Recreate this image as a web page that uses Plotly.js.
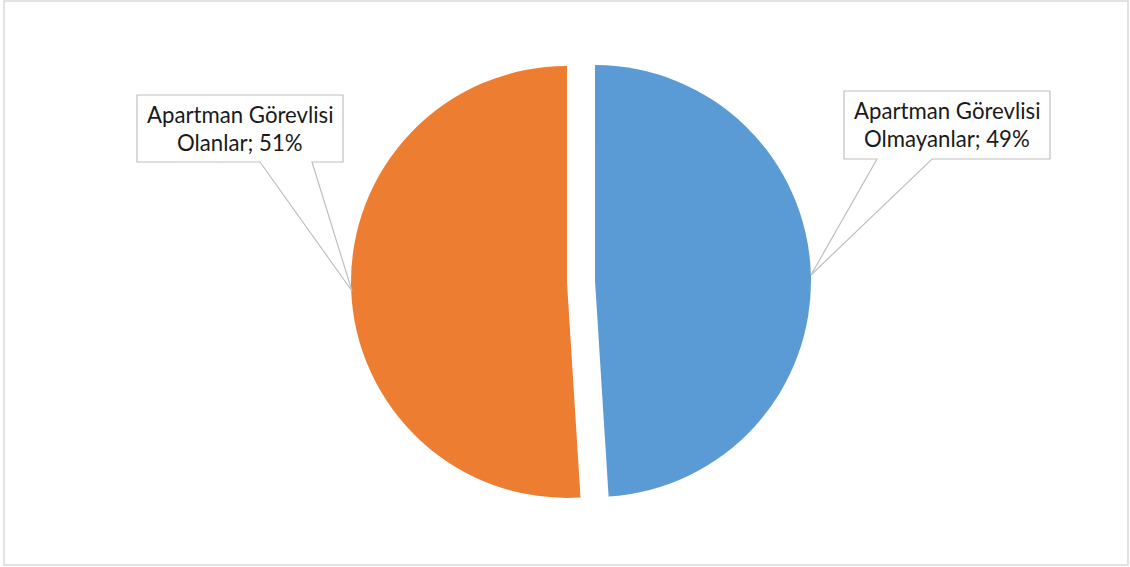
<!DOCTYPE html>
<html>
<head>
<meta charset="utf-8">
<script src="https://cdn.plot.ly/plotly-3.0.1.min.js"></script>
<style>html,body{margin:0;padding:0;background:#fff;}#chart{width:1130px;height:567px;}</style>
</head>
<body>
<div id="chart"></div>
<script>
// Data
var labels = ["Apartman Görevlisi Olmayanlar", "Apartman Görevlisi Olanlar"];
var values = [49, 51];
var colors = ["#5B9BD5", "#ED7D31"];
var labelLine1 = ["Apartman Görevlisi", "Apartman Görevlisi"];
var labelLine2 = ["Olmayanlar", "Olanlar"];

var W = 1130, H = 567;
function px(x){ return x / W; }
function py(y){ return 1 - y / H; }

// callout geometry (pixels): box l,t,r,b ; wedge base x1,x2 ; tip
var callouts = [
  {l:844, t:91, r:1050, b:159, w1:877, w2:932, tx:811, ty:275},
  {l:137, t:95, r:343, b:162, w1:260, w2:312, tx:352, ty:291}
];

var shapes = [{
  type:"rect", xref:"paper", yref:"paper",
  x0:px(4), x1:px(1128), y0:py(565), y1:py(1),
  line:{color:"#d9d9d9", width:1.5}, fillcolor:"rgba(0,0,0,0)", layer:"below"
}];
var annotations = [];
var fnt = {family:"Lato, 'Open Sans', sans-serif", size:22.2, color:"#1a1a1a"};
callouts.forEach(function(c, i){
  var path = "M" + px(c.l) + "," + py(c.t) +
             " L" + px(c.r) + "," + py(c.t) +
             " L" + px(c.r) + "," + py(c.b) +
             " L" + px(c.w2) + "," + py(c.b) +
             " L" + px(c.tx) + "," + py(c.ty) +
             " L" + px(c.w1) + "," + py(c.b) +
             " L" + px(c.l) + "," + py(c.b) + " Z";
  shapes.push({type:"path", xref:"paper", yref:"paper", path:path,
    fillcolor:"#ffffff", line:{color:"#bfbfbf", width:1.2}, layer:"above"});
  var cx = (c.l + c.r) / 2;
  var cy = (c.t + c.b) / 2;
  annotations.push({xref:"paper", yref:"paper", x:px(cx), y:py(cy - 14.5),
    text: labelLine1[i], showarrow:false, xanchor:"center", yanchor:"middle", font:fnt});
  annotations.push({xref:"paper", yref:"paper", x:px(cx), y:py(cy + 13.5),
    text: labelLine2[i] + "; " + values[i] + "%", showarrow:false, xanchor:"center", yanchor:"middle", font:fnt});
});

var trace = {
  type:"pie",
  labels: labels,
  values: values,
  marker:{colors: colors, line:{width:0}},
  sort:false,
  direction:"clockwise",
  rotation:0,
  pull:[0.065, 0.065],
  textinfo:"none",
  hoverinfo:"label+percent",
  showlegend:false,
  domain:{x:[px(301), px(861)], y:[py(511.5), py(51.5)]}
};

var layout = {
  width:W, height:H,
  margin:{l:0, r:0, t:0, b:0},
  paper_bgcolor:"#ffffff",
  showlegend:false,
  shapes: shapes,
  annotations: annotations
};

Plotly.newPlot("chart", [trace], layout, {displayModeBar:false, staticPlot:true});
</script>
</body>
</html>
